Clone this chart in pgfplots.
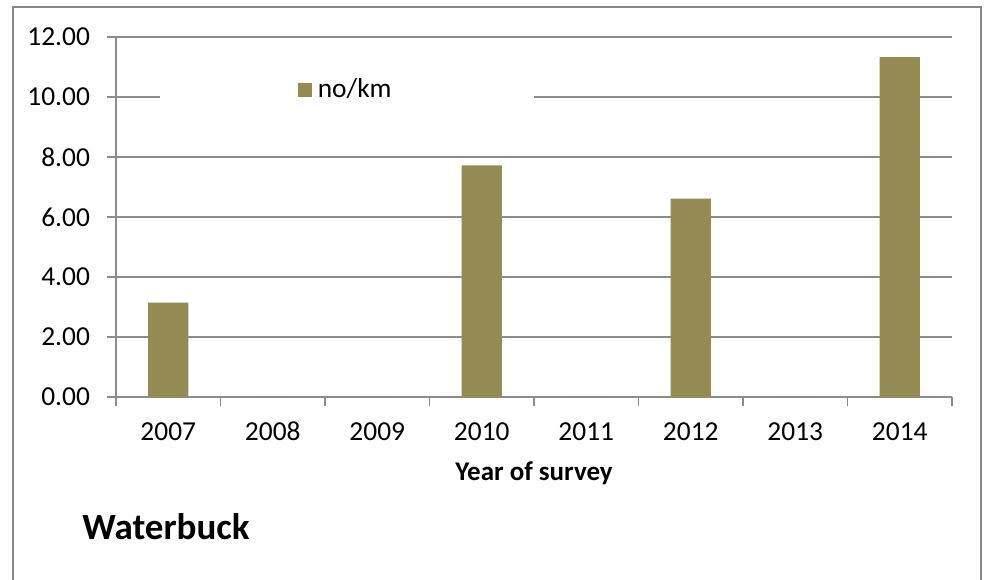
\documentclass[border=0pt]{standalone}
\usepackage{pgfplots}
\pgfplotsset{compat=1.18}
\usepackage{fontspec}
\setmainfont{Carlito}
\definecolor{barolive}{HTML}{948A54}
\definecolor{gridgray}{HTML}{8C8C8C}
\definecolor{framegray}{HTML}{878787}
\begin{document}
\begin{tikzpicture}
\begin{axis}[
  at={(0pt,0pt)}, anchor=south west,
  width=418pt, height=180pt, scale only axis,
  xmin=-0.5, xmax=7.5, ymin=0, ymax=12,
  axis x line=bottom, axis y line=left,
  axis line style={-, draw=gridgray, line width=0.65pt},
  tick align=outside,
  xtick={-0.5,0.5,...,7.5}, xticklabels={},
  major tick length=4.5pt,
  tick style={draw=gridgray, line width=0.65pt},
  extra x ticks={0,1,2,3,4,5,6,7},
  extra x tick labels={2007,2008,2009,2010,2011,2012,2013,2014},
  extra x tick style={major tick length=0pt, grid=none, tick style={draw=none}},
  ytick={0,2,...,12},
  ymajorgrids,
  grid style={draw=gridgray, line width=0.65pt},
  /pgf/number format/assume math mode=true,
  yticklabel style={/pgf/number format/fixed, /pgf/number format/fixed zerofill, /pgf/number format/precision=2, anchor=east, xshift=-5pt, font=\fontsize{13.7}{16}\selectfont},
  xticklabel style={anchor=base, yshift=-21.5pt, font=\fontsize{13.7}{16}\selectfont},
  xlabel={Year of survey},
  xlabel style={at={(axis description cs:0.5,0)}, anchor=center, yshift=-38pt, font=\bfseries\fontsize{13.5}{16}\selectfont},
  legend style={at={(rel axis cs:0.276,0.853)}, anchor=center, fill=white, draw=none, inner xsep=69pt, inner ysep=6pt, font=\fontsize{13.7}{16}\selectfont},
  legend image code/.code={\fill[barolive] (0pt,-3.5pt) rectangle (7pt,3.5pt); \path (0pt,0pt) -- (8pt,0pt);},
]
\addplot[ybar, bar width=20pt, fill=barolive, draw=none] coordinates {
  (0,3.15) (1,0) (2,0) (3,7.72) (4,0) (5,6.61) (6,0) (7,11.33)
};
\addlegendentry{no/km}
\end{axis}
\node[anchor=west, inner sep=0pt, font=\bfseries\fontsize{18.5}{21}\selectfont] at (-17pt,-65pt) {Waterbuck};
\draw[framegray, line width=1.35pt] (-51.5pt,-95pt) -- (-51.5pt,195pt) -- (432.5pt,195pt) -- (432.5pt,-95pt);
\pgfresetboundingbox
\useasboundingbox (-58pt,-91pt) rectangle (434pt,198.5pt);
\end{tikzpicture}
\end{document}
